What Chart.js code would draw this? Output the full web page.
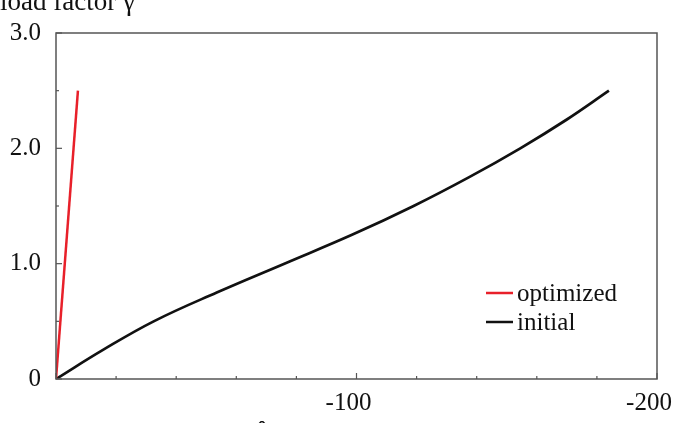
<!DOCTYPE html>
<html>
<head>
<meta charset="utf-8">
<script src="https://cdn.jsdelivr.net/npm/chart.js@4.4.1/dist/chart.umd.min.js"></script>
<style>
html,body{margin:0;padding:0;background:#fff;}
#wrap{position:relative;width:680px;height:423px;}
#warm{position:absolute;left:-9999px;top:0;font-family:"Liberation Serif";font-size:24px;}
</style>
</head>
<body>
<span id="warm">load factor γ optimized initial -100 û</span>
<div id="wrap"><canvas id="c" width="680" height="423"></canvas></div>
<script>
// Data
const seriesNames = ["optimized", "initial"];
const optimizedX = [0, -7.3];
const optimizedY = [0, 2.5];
const initialX = [0, -15.5, -32.5, -53.5, -76, -98.5, -119, -137.5, -154.5, -170, -184];
const initialY = [0, 0.25, 0.5, 0.75, 1.0, 1.25, 1.5, 1.75, 2.0, 2.25, 2.5];
const xTickLabels = [-100, -200];
const yTickLabels = ["0", "1.0", "2.0", "3.0"];
const yTickValues = [0, 1, 2, 3];
const yAxisTitle = "load factor γ";
const xAxisTitle = "û";

const FONT = "'Liberation Serif', 'Times New Roman', Times, serif";
const AXIS_COLOR = "#555";

function pts(xs, ys){ return xs.map((x,i)=>({x:x, y:ys[i]})); }

const boxAndTicks = {
  id: 'boxAndTicks',
  afterDraw(chart){
    const {ctx, chartArea:a, scales} = chart;
    ctx.save();
    ctx.strokeStyle = AXIS_COLOR;
    ctx.lineWidth = 1.5;
    ctx.strokeRect(a.left, a.top, a.right - a.left, a.bottom - a.top);
    ctx.lineWidth = 1.2;
    for (let v = 0; v >= -200; v -= 20) {
      const px = scales.x.getPixelForValue(v);
      const len = (v % 100 === 0) ? 6 : 3;
      ctx.beginPath(); ctx.moveTo(px, a.bottom); ctx.lineTo(px, a.bottom - len); ctx.stroke();
    }
    for (let v = 0; v <= 3.0001; v += 0.5) {
      const py = scales.y.getPixelForValue(v);
      const len = (Math.abs(v - Math.round(v)) < 1e-6) ? 6 : 3;
      ctx.beginPath(); ctx.moveTo(a.left, py); ctx.lineTo(a.left + len, py); ctx.stroke();
    }
    ctx.fillStyle = "#111";
    ctx.font = "27px " + FONT;
    ctx.textAlign = "left";
    ctx.textBaseline = "alphabetic";
    ctx.fillText(yAxisTitle, 0, a.top - 23);
    ctx.font = "25px " + FONT;
    ctx.textAlign = "center";
    ctx.fillText(xAxisTitle, 262, 438);
    const lx = a.left + 430, ly0 = 293, dy = 29;
    chart.data.datasets.forEach((ds, i) => {
      const y = ly0 + i * dy;
      ctx.strokeStyle = ds.borderColor;
      ctx.lineWidth = 2.5;
      ctx.beginPath(); ctx.moveTo(lx, y); ctx.lineTo(lx + 27, y); ctx.stroke();
      ctx.fillStyle = "#111";
      ctx.textAlign = "left";
      ctx.textBaseline = "middle";
      ctx.fillText(ds.label, lx + 31, y + 1);
    });
    ctx.restore();
  }
};

function build(){
  new Chart(document.getElementById('c'), {
    type: 'scatter',
    data: {
      datasets: [
        { label: seriesNames[0], data: pts(optimizedX, optimizedY), showLine: true,
          borderColor: '#e8202a', backgroundColor: '#e8202a', borderWidth: 2.5, pointRadius: 0, tension: 0 },
        { label: seriesNames[1], data: pts(initialX, initialY), showLine: true,
          borderColor: '#111111', backgroundColor: '#111111', borderWidth: 2.7, pointRadius: 0, tension: 0.4 }
      ]
    },
    options: {
      responsive: false,
      animation: false,
      devicePixelRatio: 1,
      layout: { padding: { top: 33, right: 23, left: 0, bottom: 0 } },
      plugins: { legend: { display: false }, tooltip: { enabled: false }, title: { display: false } },
      scales: {
        x: {
          type: 'linear', min: -200, max: 0, reverse: true,
          grid: { display: false, drawTicks: false },
          border: { display: false },
          afterBuildTicks(scale){ scale.ticks = xTickLabels.map(v => ({value: v})); },
          ticks: { color: '#111', font: { family: FONT, size: 25 }, padding: 9, maxRotation: 0, autoSkip: false,
                   labelOffset: -8, callback: (v) => String(v) },
          afterFit(scale){ scale.height = 44; scale.paddingLeft = 0; scale.paddingRight = 0; }
        },
        y: {
          type: 'linear', min: 0, max: 3,
          grid: { display: false, drawTicks: false },
          border: { display: false },
          afterBuildTicks(scale){ scale.ticks = yTickValues.map(v => ({value: v})); },
          ticks: { color: '#111', font: { family: FONT, size: 25 }, padding: 15, autoSkip: false,
                   callback: (v) => yTickLabels[yTickValues.indexOf(v)] },
          afterFit(scale){ scale.width = 56; scale.paddingTop = 0; scale.paddingBottom = 0; }
        }
      }
    },
    plugins: [boxAndTicks]
  });
}
if (document.fonts && document.fonts.load) {
  document.fonts.load("25px 'Liberation Serif'").then(build, build);
} else { build(); }
</script>
</body>
</html>
